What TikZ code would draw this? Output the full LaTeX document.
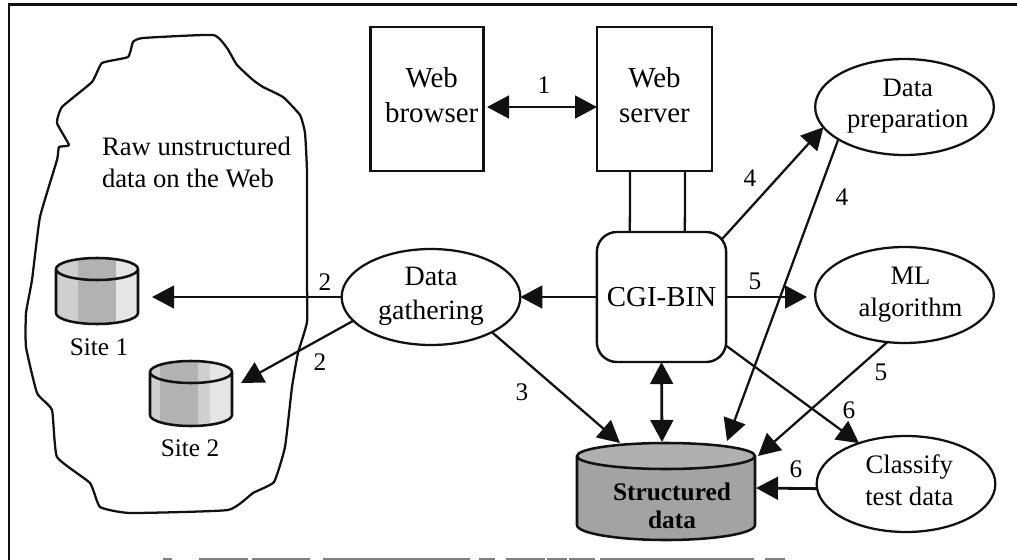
\documentclass[tikz,border=0pt]{standalone}
\usepackage{fontspec}
\setmainfont{Liberation Serif}
\usetikzlibrary{arrows.meta,calc,shapes.geometric}
\definecolor{ink}{HTML}{111111}
\newcommand\tl[4]{\hspace*{#1pt}\raisebox{#2pt}{\fontsize{#3}{#3}\selectfont\begin{tabular}{@{}c@{}}#4\end{tabular}}}
\newcommand\cylsite[6]{% x1 x2 ytop ybot ry, stripes
  \begin{scope}
    \clip (#1,#3) arc[start angle=180,end angle=540,x radius={(#2-#1)/2},y radius=#5] -- (#2,#3) -- (#2,#4) arc[start angle=0,end angle=180,x radius={(#2-#1)/2},y radius=#5] -- cycle;
    \fill[gray!38] (#1,#3-#5) rectangle (#2,#4+#5);
    \fill[gray!60] #6;
    \fill[gray!20] ($(#2,#3-#5)+(-22,0)$) rectangle (#2,#4+#5);
  \end{scope}
  \draw[cyl] (#1,#3) arc[start angle=180,end angle=540,x radius={(#2-#1)/2},y radius=#5] -- (#1,#4) arc[start angle=180,end angle=0,x radius={(#2-#1)/2},y radius=#5] -- (#2,#3);
}
\tikzset{
  x=0.75pt,y=-0.75pt,
  line/.style={draw=ink,line width=1.7pt},
  cyl/.style={draw=ink,line width=1.9pt,line join=round},
  arr/.style={line,-{Triangle[length=16.5pt,width=17pt]}},
  darr/.style={line,line width=2.1pt,{Triangle[length=16.5pt,width=17pt]}-{Triangle[length=16.5pt,width=17pt]}},
  boxn/.style={draw=ink,line width=1.8pt,inner sep=0pt,outer sep=0pt,minimum width=#1},
  oval/.style={ellipse,draw=ink,line width=1.7pt,inner sep=-8pt,outer sep=0pt,minimum width=134pt,minimum height=72pt},
  num/.style={inner sep=0pt,font=\fontsize{19}{19}\selectfont},
  plain/.style={inner sep=0pt,outer sep=0pt,align=center},
}
\begin{document}
\begin{tikzpicture}
\useasboundingbox[fill=white] (0,0) rectangle (1017,560);
% frame
\draw[ink,line width=1.6pt] (9,560) -- (9,4.5) -- (1017,4.5);
\foreach \a/\b in {163/172,199/248,252/310,323/470,479/495,506/545,547/567,569/595,600/754,765/785}
  \draw[gray,line width=1.2pt] (\a,559) -- (\b,559);
% raw web blob
\draw[ink,line width=1.7pt,line join=round] plot[smooth cycle,tension=0.25] coordinates {
 (213,35)(227,48)(237,65)(253,80)(263,87)(283,97)(300,115)(305,133)(307,173)(307,280)(307,322)
 (298,353)(292,387)(285,447)(274,482)(253,493)(228,510)(130,513)(100,507)(90,483)(57,457)(52,410)
 (37,393)(26,347)(26,313)(32,280)(40,217)(57,160)(59,147)(69,145)(57,123)(62,107)(92,82)(102,63)
 (128,57)(133,42)(143,38)};
\node[plain,anchor=base west,font=\fontsize{20}{23.5}\selectfont,align=left] (raw) at (102,187) {Raw unstructured\\data on the Web};
% sites
\cylsite{56}{138}{269}{313}{11}{(78,258) rectangle (118,324)}
\cylsite{150}{232}{372}{415}{11}{(160,361) rectangle (198,426)}
\node[plain,font=\fontsize{19}{19}\selectfont] (site1) at (99,347) {Site 1};
\node[plain,font=\fontsize{19}{19}\selectfont] (site2) at (190,448) {Site 2};
% boxes
\node[boxn=84.75pt,minimum height=108pt] (browser) at (427,99) {\tl{7}{0}{21.7}{Web\\[4.5pt]browser}};
\node[boxn=86.25pt,minimum height=108pt] (server) at (654.5,99) {\tl{0}{0}{21.7}{Web\\[4.5pt]server}};
\node[boxn=97pt,minimum height=97.5pt,rounded corners=15pt] (cgi) at (661.5,297) {\fontsize{21.7}{21.7}\selectfont CGI-BIN};
% ellipses
\node[oval] (prep) at (904.5,107) {\tl{5}{0}{20}{Data\\[3.5pt]preparation}};
\node[oval] (ml) at (904.5,295) {\tl{9}{0}{20}{ML\\[3.5pt]algorithm}};
\node[oval] (gather) at (431,297) {\tl{0}{0}{21}{Data\\[4.5pt]gathering}};
\node[oval] (classify) at (906,484) {\tl{5}{0}{20}{Classify\\[3.5pt]test data}};
% structured data
\fill[gray!72] (577,456) -- (755,456) -- (755,525) arc[start angle=0,end angle=180,x radius=89,y radius=15] -- cycle;
\fill[gray!62] (577,456) arc[start angle=180,end angle=540,x radius=89,y radius=13];
\draw[cyl] (577,456) arc[start angle=180,end angle=540,x radius=89,y radius=13] -- (577,525) arc[start angle=180,end angle=0,x radius=89,y radius=15] -- (755,456);
\node[plain,font=\fontsize{19}{21}\selectfont\bfseries] (struct) at (672,506) {Structured\\data};
% free ends
\coordinate (b1) at (487,107);
\coordinate (s1) at (597,107);
\coordinate (t1) at (152,297);
\coordinate (t2) at (241,383);
\coordinate (d1) at (620,443);
\coordinate (d2) at (662,442);
\coordinate (d3) at (727,441);
\coordinate (d4) at (758,456);
\coordinate (d5) at (756,488);
\coordinate (m1) at (807,297);
\coordinate (c1) at (726,297);
% connectors
\draw[darr] (b1) -- (s1);
\draw[line] ($(server.south west)+(33,0)$) -- ($(cgi.north west)+(33,0)$);
\draw[line] ($(server.south west)+(88,0)$) -- ($(cgi.north west)+(88,0)$);
\draw[arr,line width=2.1pt] (cgi.west) -- (gather.east);
\draw[arr] (gather.west) -- (t1);
\draw[arr] (gather.197.8) -- (t2);
\draw[arr] (gather.-30) -- (d1);
\draw[darr] (cgi.south) -- (d2);
\draw[arr] ($(cgi.north east)+(-4,7)$) -- (prep.194.9);
\draw[arr] (prep.206.4) -- (d3);
\draw[arr,line width=2.1pt] (c1) -- (m1);
\draw[arr] (cgi.-37) -- (classify.139);
\draw[arr] (ml.250) -- (d4);
\draw[arr,line width=2.1pt] (classify.183) -- (d5);
% numbers
\node[num] (n1) at (544,85) {1};
\node[num] (n2a) at (325,282) {2};
\node[num] (n2b) at (320,362) {2};
\node[num] (n3) at (522,392) {3};
\node[num] (n4a) at (750,178) {4};
\node[num] (n4b) at (842,197) {4};
\node[num] (n5a) at (755,281) {5};
\node[num] (n5b) at (881,372) {5};
\node[num] (n6a) at (849,410) {6};
\node[num] (n6b) at (796,469) {6};
\end{tikzpicture}
\end{document}
